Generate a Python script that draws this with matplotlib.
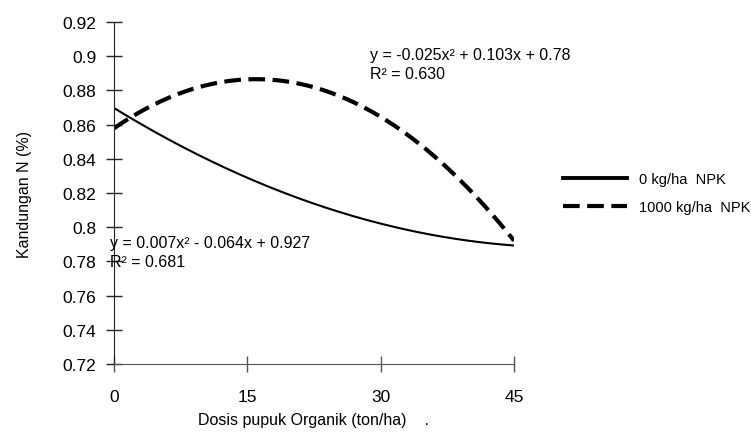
import numpy as np
import matplotlib.pyplot as plt

# dosis pupuk organik (ton/ha)
dosis = [0, 15, 30, 45]
# kandungan N (%) read from the trendlines
npk0 = [0.870, 0.828, 0.803, 0.789]
npk1000 = [0.858, 0.886, 0.865, 0.792]
labels = ['0 kg/ha  NPK', '1000 kg/ha  NPK']
eq0 = 'y = 0.007x² - 0.064x + 0.927\nR² = 0.681'
eq1000 = 'y = -0.025x² + 0.103x + 0.78\nR² = 0.630'
yticks = [0.72, 0.74, 0.76, 0.78, 0.8, 0.82, 0.84, 0.86, 0.88, 0.9, 0.92]

plt.rcParams['font.family'] = ['Liberation Sans', 'DejaVu Sans']

fig = plt.figure(figsize=(7.51, 4.35), dpi=100)
ax = fig.add_axes([114/751, 70/435, 400/751, 342/435])

xs = np.linspace(dosis[0], dosis[-1], 200)
# quadratic trendlines, fitted like the spreadsheet does
p0 = np.polyfit(dosis, npk0, 2)
p1 = np.polyfit(dosis, npk1000, 2)
ax.plot(xs, np.polyval(p0, xs), color='black', lw=1.5, label=labels[0])
ax.plot(xs, np.polyval(p1, xs), color='black', lw=3, ls=(0, (4, 1.8)), label=labels[1])

ax.set_xlim(0, 45)
ax.set_ylim(0.72, 0.92)
ax.set_xticks(dosis)
ax.set_yticks(yticks)
ax.set_yticklabels(['%g' % v for v in yticks])
for s in ['top', 'right']:
    ax.spines[s].set_visible(False)
ax.spines['left'].set_color('#222222')
ax.spines['bottom'].set_color('#555555')
ax.tick_params(axis='y', direction='inout', length=12, width=1, pad=6.7, labelsize=12.5, color='#222222')
ax.tick_params(axis='x', direction='inout', length=12, width=1, pad=12, labelsize=12.5, color='#555555')

ax.text(-0.4, 0.7955, eq0, fontsize=11.5, va='top', ha='left', linespacing=1.35, clip_on=False)
ax.text(28.8, 0.9055, eq1000, fontsize=11.5, va='top', ha='left', linespacing=1.35)

ax.set_ylabel('Kandungan N (%)', fontsize=11.5, labelpad=22)
ax.set_xlabel('Dosis pupuk Organik (ton/ha)    .', fontsize=11.5, labelpad=6)

leg = ax.legend(loc='center left', bbox_to_anchor=(1.09, 0.5), frameon=False, fontsize=10.5,
                handlelength=4.4, handletextpad=0.8, labelspacing=0.95)
leg.get_lines()[0].set_linewidth(2.8)

fig.savefig('out.png', dpi=100)
